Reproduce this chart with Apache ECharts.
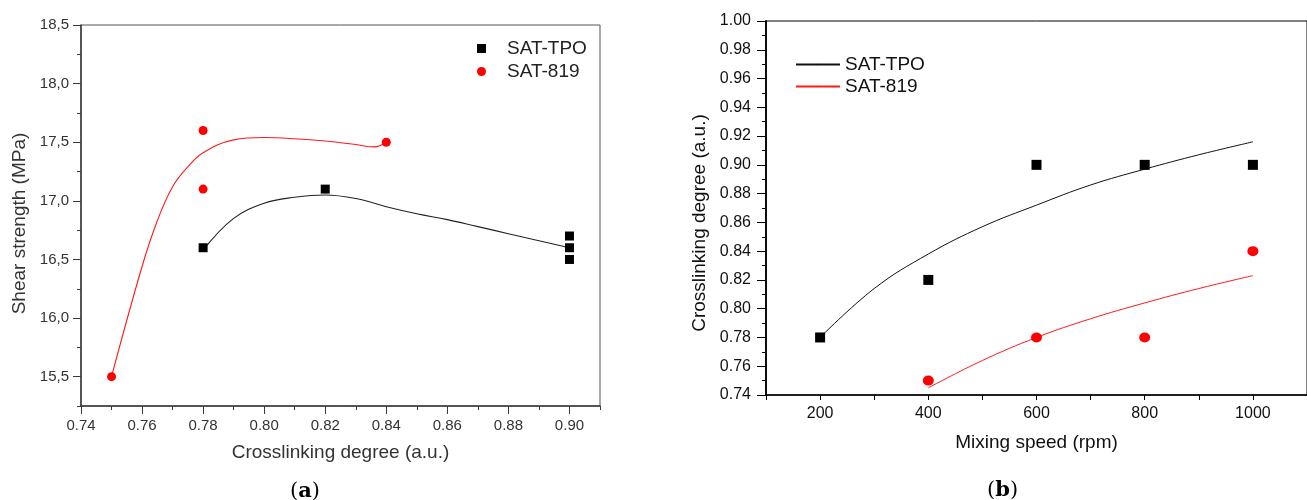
<!DOCTYPE html>
<html><head><meta charset="utf-8">
<script src="https://cdn.jsdelivr.net/npm/echarts@6/dist/echarts.min.js"></script>
<style>
html,body{margin:0;padding:0;background:#fff;width:1307px;height:500px;overflow:hidden}
#a{position:absolute;left:0;top:0;width:650px;height:500px}
#b{position:absolute;left:650px;top:0;width:657px;height:500px}
</style>
</head><body><div id="a"></div><div id="b"></div>
<script>
// ---------- Panel (a) data ----------
const aXTicks = [0.74, 0.76, 0.78, 0.80, 0.82, 0.84, 0.86, 0.88, 0.90];
const aYTicks = [15.5, 16.0, 16.5, 17.0, 17.5, 18.0, 18.5];
const aTpoPoints = [[0.78, 16.6], [0.82, 17.1], [0.90, 16.7], [0.90, 16.6], [0.90, 16.5]];
const a819Points = [[0.75, 15.5], [0.78, 17.6], [0.78, 17.1], [0.84, 17.5]];
const aTpoCurve = [[0.78, 16.58], [0.79, 16.85], [0.80, 16.98], [0.81, 17.03], [0.82, 17.05], [0.83, 17.02], [0.84, 16.95], [0.85, 16.89], [0.86, 16.84], [0.87, 16.78], [0.88, 16.72], [0.89, 16.66], [0.90, 16.60]];
const a819Curve = [[0.75, 15.5], [0.76, 16.44], [0.765, 16.83], [0.77, 17.12], [0.775, 17.29], [0.78, 17.41], [0.79, 17.52], [0.80, 17.54], [0.81, 17.53], [0.82, 17.51], [0.83, 17.48], [0.836, 17.46], [0.84, 17.50]];

// ---------- Panel (b) data ----------
const bXTicks = [200, 400, 600, 800, 1000];
const bYTicks = [0.74, 0.76, 0.78, 0.80, 0.82, 0.84, 0.86, 0.88, 0.90, 0.92, 0.94, 0.96, 0.98, 1.00];
const bTpoPoints = [[200, 0.78], [400, 0.82], [600, 0.90], [800, 0.90], [1000, 0.90]];
const b819Points = [[400, 0.75], [600, 0.78], [800, 0.78], [1000, 0.84]];
const bTpoCurve = [[200, 0.780], [300, 0.814], [400, 0.838], [500, 0.857], [600, 0.872], [700, 0.886], [800, 0.897], [900, 0.907], [1000, 0.916]];
const b819Curve = [[400, 0.745], [500, 0.764], [600, 0.780], [700, 0.793], [800, 0.804], [900, 0.814], [1000, 0.823]];

const FONT = 'Liberation Sans, Arial, sans-serif';

// ---------- Chart (a) ----------
const ca = echarts.init(document.getElementById('a'), null, {renderer: 'canvas'});
const aAxisColor = '#3a3a3a';
ca.setOption({
  animation: false,
  backgroundColor: '#fff',
  grid: {left: 81, top: 25, width: 519, height: 381, show: true, borderColor: '#555', borderWidth: 1},
  xAxis: [{
    type: 'value', min: 0.74, max: 0.91, interval: 0.01,
    axisLine: {lineStyle: {color: aAxisColor, width: 1.5}},
    axisTick: {length: 4, lineStyle: {color: aAxisColor}},
    splitLine: {show: false},
    axisLabel: {customValues: aXTicks, formatter: v => v.toFixed(2), color: '#333', fontSize: 15, fontFamily: FONT, margin: 12},
    name: 'Crosslinking degree (a.u.)', nameLocation: 'middle', nameGap: 37,
    nameTextStyle: {fontSize: 19, color: '#333', fontFamily: FONT}
  }, {
    type: 'value', min: 0.74, max: 0.91, position: 'bottom',
    axisLine: {show: false},
    axisTick: {customValues: aXTicks, length: 8, lineStyle: {color: aAxisColor}},
    axisLabel: {show: false}, splitLine: {show: false}
  }],
  yAxis: [{
    type: 'value', min: 15.25, max: 18.5, interval: 0.25,
    axisLine: {lineStyle: {color: aAxisColor, width: 1.5}},
    axisTick: {length: 4, lineStyle: {color: aAxisColor}},
    splitLine: {show: false},
    axisLabel: {customValues: aYTicks, formatter: v => v.toFixed(1).replace('.', ','), color: '#333', fontSize: 15, fontFamily: FONT, margin: 12},
    name: 'Shear strength (MPa)', nameLocation: 'middle', nameGap: 51,
    nameTextStyle: {fontSize: 19, color: '#333', fontFamily: FONT, padding: [0, 16, 0, 0]}
  }, {
    type: 'value', min: 15.25, max: 18.5, position: 'left',
    axisLine: {show: false},
    axisTick: {customValues: aYTicks, length: 8, lineStyle: {color: aAxisColor}},
    axisLabel: {show: false}, splitLine: {show: false}
  }],
  legend: {
    left: 477, top: 39, padding: 0, orient: 'vertical', itemWidth: 9, itemHeight: 9, itemGap: 4,
    data: [{name: 'SAT-TPO', icon: 'rect'}, {name: 'SAT-819', icon: 'circle'}],
    formatter: n => '{t|' + n + '}',
    textStyle: {rich: {t: {fontSize: 19, color: '#222', fontFamily: FONT, padding: [0, 0, 0, 16]}}}
  },
  series: [
    {type: 'line', name: 'TPO fit', data: aTpoCurve, smooth: 0.4, symbol: 'none', lineStyle: {color: '#222', width: 1.1}, itemStyle: {color: '#222'}, z: 2},
    {type: 'line', name: '819 fit', data: a819Curve, smooth: 0.4, symbol: 'none', lineStyle: {color: '#ff1a1a', width: 1.1}, itemStyle: {color: '#ff1a1a'}, z: 2},
    {type: 'scatter', name: 'SAT-TPO', data: aTpoPoints, symbol: 'rect', symbolSize: 9, itemStyle: {color: '#000', opacity: 1}, z: 3},
    {type: 'scatter', name: 'SAT-819', data: a819Points, symbol: 'circle', symbolSize: 9, itemStyle: {color: '#ff0000', opacity: 1}, z: 3}
  ],
  graphic: [{
    type: 'text', left: 290, top: 481,
    style: {
      text: '({b|a})', rich: {b: {fontWeight: 'bold', fontSize: 21, fontFamily: 'DejaVu Serif, serif', fill: '#000'}},
      fontSize: 21, fontFamily: 'DejaVu Serif, serif', fill: '#000'
    }
  }]
});

// ---------- Chart (b) ----------
const cb = echarts.init(document.getElementById('b'), null, {renderer: 'canvas'});
cb.setOption({
  animation: false,
  backgroundColor: '#fff',
  grid: {left: 116, top: 21, width: 551, height: 374, show: true, borderColor: '#000', borderWidth: 1},
  xAxis: {
    type: 'value', min: 100, max: 1100, interval: 100,
    axisLine: {lineStyle: {color: '#000', width: 1.5}},
    axisTick: {length: 5, lineStyle: {color: '#000'}},
    splitLine: {show: false},
    axisLabel: {customValues: bXTicks, formatter: v => String(v), color: '#111', fontSize: 16, fontFamily: FONT, margin: 11},
    name: 'Mixing speed (rpm)', nameLocation: 'middle', nameGap: 38,
    nameTextStyle: {fontSize: 19, color: '#111', fontFamily: FONT}
  },
  yAxis: {
    type: 'value', min: 0.74, max: 1.00, interval: 0.02,
    axisLine: {lineStyle: {color: '#000', width: 1.8}},
    axisTick: {length: 9, lineStyle: {color: '#000'}},
    minorTick: {show: true, splitNumber: 2, length: 4, lineStyle: {color: '#000'}},
    splitLine: {show: false},
    axisLabel: {customValues: bYTicks, formatter: v => v.toFixed(2), color: '#111', fontSize: 16, fontFamily: FONT, margin: 15},
    name: 'Crosslinking degree (a.u.)', nameLocation: 'middle', nameGap: 54,
    nameTextStyle: {fontSize: 19, color: '#111', fontFamily: FONT, padding: [0, 30, 0, 0]}
  },
  legend: {
    left: 145, top: 55, padding: 0, orient: 'vertical', itemWidth: 44, itemHeight: 2, itemGap: 3,
    data: ['SAT-TPO', 'SAT-819'],
    textStyle: {fontSize: 19, color: '#111', fontFamily: FONT}
  },
  series: [
    {type: 'line', name: 'SAT-TPO', data: bTpoCurve, smooth: 0.4, symbol: 'none', lineStyle: {color: '#111', width: 1}, itemStyle: {color: '#111'}, z: 2},
    {type: 'line', name: 'SAT-819', data: b819Curve, smooth: 0.4, symbol: 'none', lineStyle: {color: '#ff1a1a', width: 1}, itemStyle: {color: '#ff1a1a'}, z: 2},
    {type: 'scatter', name: 'TPO points', data: bTpoPoints, symbol: 'rect', symbolSize: 10, itemStyle: {color: '#000', opacity: 1}, z: 3},
    {type: 'scatter', name: '819 points', data: b819Points, symbol: 'circle', symbolSize: [11, 10], itemStyle: {color: '#ff0000', opacity: 1}, z: 3}
  ],
  graphic: [{
    type: 'text', left: 337, top: 480,
    style: {
      text: '({b|b})', rich: {b: {fontWeight: 'bold', fontSize: 21, fontFamily: 'DejaVu Serif, serif', fill: '#000'}},
      fontSize: 21, fontFamily: 'DejaVu Serif, serif', fill: '#000'
    }
  }]
});
</script>
</body></html>
